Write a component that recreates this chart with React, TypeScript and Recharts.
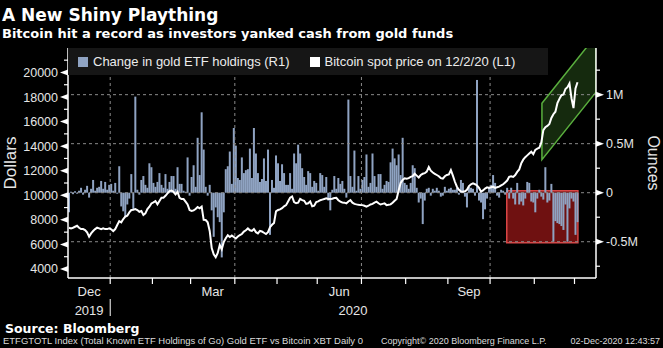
import React from 'react';
import { ComposedChart, Bar, Line, XAxis, YAxis, ReferenceLine, ReferenceArea, Legend, Label } from 'recharts';

// Daily change in total known gold ETF holdings, thousands of ounces (2 Dec 2019 - 2 Dec 2020)
const etfChange = [
  -200, 10, -15, 15, -10, 20, 50, -20, 30, 70,
  -50, 40, 130, 20, 50, 60, 120, 40, 110, 30,
  80, 90, 20, 100, -10, 270, -140, -190, -250, -120,
  -60, 190, -170, 980, 30, -20, 130, 170, 80, 50,
  300, 260, 100, 60, 110, 200, 80, 50, 190, 40,
  110, 170, 170, 40, 260, 90, 90, 20, 10, 360,
  -30, 160, 280, 60, 560, 180, 820, 440, 60, -30,
  80, -180, -450, -150, -250, -300, -660, -200, 240, 270,
  420, 90, 660, 480, 150, 130, 360, 200, 230, 240,
  450, 150, 660, 400, 200, 110, 140, 350, 120, 440,
  -430, 130, 50, 380, 300, 120, 290, 200, 80, 80,
  200, 40, 400, 300, 490, 400, 250, 160, 80, 220,
  200, 60, 120, 100, 20, 200, 180, 60, 160, -80,
  -180, 30, 170, 40, 150, 90, 120, 40, -50, 950,
  170, 60, 430, 20, 170, 40, 130, 160, 390, 60,
  100, 400, 170, 60, 190, 190, 40, 80, 120, 110,
  310, 450, 350, 280, 390, 180, 560, 100, 80, 40,
  100, 280, 250, 50, -100, -60, -320, -80, 40, 50,
  -30, 40, 20, 50, 20, -40, -30, 60, 20, 40,
  50, 30, 30, 50, -20, 130, 100, -40, -150, 60,
  50, 40, -30, 1150, -80, -100, -270, -170, -60, 60,
  80, 180, 100, -30, -50, 30, 20, -20, 50, -60,
  50, -60, -120, 100, -120, -90, -130, -60, 110, 100,
  -90, -100, -200, -60, 30, -40, -70, 260, -100, -80,
  90, -500, -290, -310, -320, -340, -380, -120, -500, -160,
  -60, -90, -430, -300,
];

// Bitcoin spot price, USD
const btcPrice = [
  7360, 7310, 7360, 7440, 7520, 7360, 7250, 7250, 7170, 6980,
  6630, 6900, 7090, 7250, 7360, 7310, 7250, 7310, 7250, 7250,
  7310, 7230, 7090, 7250, 7580, 7900, 7800, 8070, 8260, 8340,
  8610, 8800, 8830, 8880, 8800, 8660, 8720, 8400, 8530, 8880,
  9070, 9340, 9420, 9530, 9260, 9530, 9800, 9800, 9960, 10150,
  10340, 10390, 10280, 10070, 10280, 9800, 9690, 9690, 9480, 9260,
  8800, 8720, 8770, 8880, 9040, 8940, 9070, 8000, 7990, 7800,
  7100, 5700, 5200, 4950, 5300, 5950, 5600, 6200, 6500, 6750,
  6600, 6720, 6600, 6480, 6650, 6750, 6850, 7050, 7150, 7300,
  7150, 7100, 7250, 7000, 6900, 7100, 7050, 6950, 6850, 7000,
  7400, 7600, 7750, 8700, 8800, 8850, 8950, 9100, 9200, 9500,
  9800, 9900, 9450, 9350, 9400, 9700, 9600, 9550, 9300, 9350,
  9500, 9100, 9150, 9450, 9500, 9600, 9650, 9700, 9750, 9700,
  9690, 9720, 9780, 9800, 9600, 9480, 9420, 9400, 9340, 9500,
  9610, 9400, 9300, 9260, 9230, 9210, 9200, 9150, 9070, 9150,
  9250, 9300, 9400, 9480, 9350, 9250, 9300, 9340, 9200, 9230,
  9260, 9400, 9550, 9700, 10400, 11000, 11250, 11380, 11350, 11400,
  11500, 11550, 11750, 11600, 11450, 11650, 11750, 11800, 11930, 12300,
  12000, 11850, 11750, 11650, 11550, 11400, 11350, 11550, 11650, 11700,
  12050, 11600, 11100, 10700, 10450, 10300, 10290, 10320, 10450, 10750,
  10900, 10970, 10900, 10800, 10600, 10300, 10400, 10550, 10650, 10600,
  10650, 10700, 10600, 10650, 10700, 10800, 10900, 11050, 11200, 11500,
  11550, 11500, 11650, 11900, 12100, 12600, 12900, 13100, 13250, 13400,
  13550, 13350, 13700, 13800, 13870, 14300, 15300, 15550, 15650, 15800,
  16300, 16600, 16800, 17500, 17850, 18150, 18200, 18650, 18800, 19100,
  17900, 17100, 18700, 19200,
];

// x values are trading-session indexes; month ends sit between two sessions
const monthEnds = [20.5, 41.5, 60.5, 82.5, 103.5, 123.5, 145.5, 167.5, 188.5, 209.5, 231.5, 251.5];
const quarterEnds = [20.5, 82.5, 145.5, 209.5];
const monthLabelAt = [10, 71.5, 134.5, 199];
const monthLabels = ['Dec', 'Mar', 'Jun', 'Sep'];
const yearLabelAt = [10, 141.3];
const yearLabels = ['2019', '2020'];

const dollarTicks = [4000, 5000, 6000, 7000, 8000, 9000, 10000, 11000, 12000, 13000, 14000, 15000, 16000, 17000, 18000, 19000, 20000, 21000];
const ounceTicks = [-750, -500, -250, 0, 250, 500, 750, 1000, 1250];
const ounceGrid = [-500, 0, 500, 1000];
const ounceLabels: Record<string, string> = { '-500': '-0.5M', '0': '0', '500': '0.5M', '1000': '1M' };

// highlighted windows
const outflowBox = { x1: 217.8, x2: 253.2, y1: -510, y2: 20 };
const rallyChannel = { x1: 235.3, x2: 262.2, lowStart: 12900, lowEnd: 18400, highStart: 17500, highEnd: 23000 };

const data = btcPrice.map((p, i) => ({ i, btc: p, etf: etfChange[i] }));
const xTicks = Array.from(new Set([...monthEnds, ...monthLabelAt, ...yearLabelAt])).sort((a, b) => a - b);

const AXIS_FONT = '"Liberation Sans", Arial, sans-serif';
const TITLE_FONT = '"DejaVu Sans", Verdana, sans-serif';
const TXT = '#e6e6e6';

const DateTick = (props: any) => {
  const { x, y, payload } = props;
  const v = payload.value;
  const mi = monthLabelAt.indexOf(v);
  const yi = yearLabelAt.indexOf(v);
  return (
    <g>
      {monthEnds.includes(v) && <line x1={x} x2={x} y1={y} y2={y + 6} stroke="#fff" strokeWidth={1.2} />}
      {v === monthEnds[0] && <line x1={x} x2={x} y1={y + 21} y2={y + 38} stroke="#fff" strokeWidth={1} />}
      {mi >= 0 && (
        <text x={x} y={y + 18} textAnchor="middle" fill={TXT} fontSize={13} fontFamily={AXIS_FONT}>{monthLabels[mi]}</text>
      )}
      {yi >= 0 && (
        <text x={x} y={y + 37} textAnchor="middle" fill={TXT} fontSize={13} fontFamily={AXIS_FONT}>{yearLabels[yi]}</text>
      )}
    </g>
  );
};

const DollarTick = (props: any) => {
  const { x, y, payload } = props;
  const v = payload.value;
  if (v % 2000 !== 0) return <line x1={x} x2={x - 4} y1={y} y2={y} stroke="#fff" strokeWidth={1.2} />;
  return (
    <g>
      <polygon points={`${x},${y - 3} ${x},${y + 3} ${x - 8},${y}`} fill="#fff" />
      <text x={x - 10} y={y + 4.5} textAnchor="end" fill={TXT} fontSize={12.5} fontFamily={AXIS_FONT}>{v}</text>
    </g>
  );
};

const OunceTick = (props: any) => {
  const { x, y, payload } = props;
  const label = ounceLabels[String(payload.value)];
  if (label === undefined) return <line x1={x} x2={x + 4} y1={y} y2={y} stroke="#fff" strokeWidth={1.2} />;
  return (
    <g>
      <polygon points={`${x},${y - 3} ${x},${y + 3} ${x + 8},${y}`} fill="#fff" />
      <text x={x + 10} y={y + 4.5} textAnchor="start" fill={TXT} fontSize={12.5} fontFamily={AXIS_FONT}>{label}</text>
    </g>
  );
};

const ChannelShape = (props: any) => {
  const { x, y, width, height, clipPath } = props;
  const c = rallyChannel;
  const yAt = (v: number) => y + ((c.highEnd - v) / (c.highEnd - c.lowStart)) * height;
  const pts = [
    [x, yAt(c.highStart)],
    [x + width, yAt(c.highEnd)],
    [x + width, yAt(c.lowEnd)],
    [x, yAt(c.lowStart)],
  ].map((p) => p.join(',')).join(' ');
  return <polygon points={pts} fill="#4c9a32" fillOpacity={0.27} stroke="#5aaf3e" strokeWidth={1.5} clipPath={clipPath} />;
};

const LegendBox = () => (
  <div style={{ background: '#161616', height: 27, width: 480, display: 'flex', alignItems: 'center', fontFamily: AXIS_FONT, fontSize: 13, color: '#ececec' }}>
    <span style={{ width: 10, height: 10, background: '#8fa3c2', marginLeft: 10, marginRight: 5 }} />
    <span>Change in gold ETF holdings (R1)</span>
    <span style={{ width: 10, height: 10, background: '#fff', marginLeft: 20, marginRight: 5 }} />
    <span>Bitcoin spot price on 12/2/20 (L1)</span>
  </div>
);

export default function App() {
  return (
    <div style={{ position: 'relative', width: 663, height: 348, background: '#000', overflow: 'hidden' }}>
      <style>{'body{margin:0;background:#000}'}</style>
      <ComposedChart width={663} height={348} data={data} margin={{ top: 48, right: 8, bottom: 30, left: 8 }}>
        <XAxis
          type="number"
          dataKey="i"
          domain={[-0.5, 262.2]}
          allowDataOverflow
          ticks={xTicks}
          interval={0}
          tickSize={0}
          tickMargin={0}
          tickLine={false}
          tick={<DateTick />}
          axisLine={{ stroke: '#fff', strokeWidth: 1.5 }}
          height={40}
        />
        <YAxis
          yAxisId="left"
          orientation="left"
          domain={[3267, 21990]}
          allowDataOverflow
          ticks={dollarTicks}
          interval={0}
          tickSize={0}
          tickMargin={0}
          tickLine={false}
          tick={<DollarTick />}
          axisLine={{ stroke: '#fff', strokeWidth: 1.5 }}
          width={60}
        >
          <Label
            content={(p: any) => {
              const vb = p.viewBox;
              const cx = vb.x + 2;
              const cy = vb.y + vb.height / 2;
              return (
                <text x={cx} y={cy} transform={`rotate(-90 ${cx} ${cy})`} textAnchor="middle" dominantBaseline="central" fill={TXT} fontSize={17} fontFamily={AXIS_FONT}>Dollars</text>
              );
            }}
          />
        </YAxis>
        <YAxis
          yAxisId="right"
          orientation="right"
          domain={[-870, 1476]}
          allowDataOverflow
          ticks={ounceTicks}
          interval={0}
          tickSize={0}
          tickMargin={0}
          tickLine={false}
          tick={<OunceTick />}
          axisLine={{ stroke: '#fff', strokeWidth: 1.5 }}
          width={59}
        >
          <Label
            content={(p: any) => {
              const vb = p.viewBox;
              const cx = vb.x + vb.width - 2;
              const cy = vb.y + vb.height / 2;
              return (
                <text x={cx} y={cy} transform={`rotate(90 ${cx} ${cy})`} textAnchor="middle" dominantBaseline="central" fill={TXT} fontSize={16} fontFamily={AXIS_FONT}>Ounces</text>
              );
            }}
          />
        </YAxis>

        {ounceGrid.map((v) => (
          <ReferenceLine key={'h' + v} yAxisId="right" y={v} stroke="#8a8a8a" strokeDasharray="3 3" strokeWidth={1} />
        ))}
        {quarterEnds.map((v) => (
          <ReferenceLine key={'v' + v} yAxisId="right" x={v} stroke="#8a8a8a" strokeDasharray="3 3" strokeWidth={1} />
        ))}

        <Bar yAxisId="right" dataKey="etf" fill="#8fa3c2" barSize={2} isAnimationActive={false} />
        <Line yAxisId="left" dataKey="btc" type="linear" stroke="#fff" strokeWidth={2} dot={false} activeDot={false} isAnimationActive={false} />

        <ReferenceArea
          yAxisId="right"
          x1={outflowBox.x1}
          x2={outflowBox.x2}
          y1={outflowBox.y1}
          y2={outflowBox.y2}
          fill="#e82424"
          fillOpacity={0.48}
          stroke="#d84646"
          strokeWidth={1.5}
          ifOverflow="hidden"
        />
        <ReferenceArea
          yAxisId="left"
          x1={rallyChannel.x1}
          x2={rallyChannel.x2}
          y1={rallyChannel.lowStart}
          y2={rallyChannel.highEnd}
          ifOverflow="hidden"
          shape={<ChannelShape />}
        />

        <Legend
          verticalAlign="middle"
          align="center"
          layout="horizontal"
          wrapperStyle={{ top: 48, left: 68, width: 480, height: 27 }}
          content={() => <LegendBox />}
        />
      </ComposedChart>

      <svg width={663} height={348} style={{ position: 'absolute', left: 0, top: 0, pointerEvents: 'none' }}>
        <text x={2} y={21} fill="#fff" fontSize={17} fontWeight="bold" fontFamily={TITLE_FONT}>A New Shiny Plaything</text>
        <text x={2} y={38} fill="#fff" fontSize={13} fontWeight="bold" fontFamily={TITLE_FONT}>Bitcoin hit a record as investors yanked cash from gold funds</text>
        <text x={5} y={333} fill="#fff" fontSize={12.5} fontWeight="bold" fontFamily={TITLE_FONT}>Source: Bloomberg</text>
        <text x={3} y={344} fill="#dcdcdc" fontSize={9} fontFamily={AXIS_FONT} textLength={360} lengthAdjust="spacingAndGlyphs">ETFGTOTL Index (Total Known ETF Holdings of Go) Gold ETF vs Bitcoin XBT  Daily 0</text>
        <text x={381} y={344} fill="#dcdcdc" fontSize={9} fontFamily={AXIS_FONT}>Copyright© 2020 Bloomberg Finance L.P.</text>
        <text x={660} y={344} textAnchor="end" fill="#dcdcdc" fontSize={9} fontFamily={AXIS_FONT}>02-Dec-2020 12:43:57</text>
      </svg>
    </div>
  );
}
